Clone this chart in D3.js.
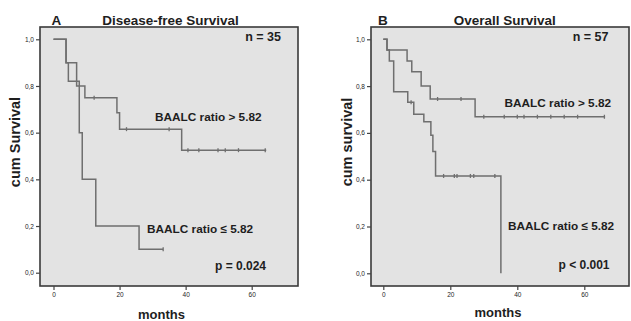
<!DOCTYPE html>
<html>
<head>
<meta charset="utf-8">
<script src="https://cdn.jsdelivr.net/npm/d3@7"></script>
<style>
  html, body { margin: 0; padding: 0; background: #ffffff; }
  svg { display: block; }
  text { font-family: "Liberation Sans", Arial, sans-serif; fill: #1e1e1e; }
</style>
</head>
<body>
<svg id="chart" width="631" height="321"></svg>
<script>
// Kaplan-Meier step curves (time in months, cumulative survival)
const dfsHighTime = [0, 3.8, 7.0, 9.5, 19.2, 20.0, 38.8, 64.4];
const dfsHighSurv = [1.0, 0.90, 0.80, 0.75, 0.685, 0.615, 0.525, 0.525];
const dfsHighCensor = [12.3, 22.1, 35, 40.7, 44, 49.8, 52, 56, 64.1];

const dfsLowTime = [0, 3.8, 4.5, 7.8, 8.7, 12.8, 25.9, 33.2];
const dfsLowSurv = [1.0, 0.90, 0.82, 0.60, 0.40, 0.20, 0.10, 0.10];
const dfsLowCensor = [33.2];

const osHighTime = [0, 1.1, 7.1, 8.5, 11.3, 14.0, 27.4, 66.2];
const osHighSurv = [1.0, 0.954, 0.907, 0.861, 0.80, 0.745, 0.669, 0.669];
const osHighCensor = [16.2, 23.2, 30, 36.1, 40, 42, 46, 50, 54, 58, 66];

const osLowTime = [0, 1.1, 1.8, 3.1, 7.3, 9.1, 12.1, 14.2, 14.8, 15.6, 35.1];
const osLowSurv = [1.0, 0.954, 0.907, 0.776, 0.731, 0.680, 0.648, 0.59, 0.52, 0.416, 0.0];
const osLowCensor = [8.3, 18, 21.2, 22, 26, 27, 33.3];

const xTicks = [0, 20, 40, 60];
const yTicks = [0, 0.2, 0.4, 0.6, 0.8, 1.0];

const panels = [
  {
    letter: "A", title: "Disease-free Survival", n: "n = 35", p: "p = 0.024",
    yLabel: "cum Survival",
    high: { t: dfsHighTime, s: dfsHighSurv, c: dfsHighCensor },
    low:  { t: dfsLowTime,  s: dfsLowSurv,  c: dfsLowCensor },
    frame: { x0: 40, x1: 298, y0: 27, y1: 286 },
    xr: [53.5, 251.7], yr: [272.7, 39.3],
    labelHigh: [155, 121], labelLow: [147, 232.5], pPos: [215, 270],
    nPos: [281, 41], letterPos: [51.5, 25], titleX: 170.5,
    monthsPos: [161.5, 319], yLabelPos: [20, 142]
  },
  {
    letter: "B", title: "Overall Survival", n: "n = 57", p: "p < 0.001",
    yLabel: "cum survival",
    high: { t: osHighTime, s: osHighSurv, c: osHighCensor },
    low:  { t: osLowTime,  s: osLowSurv,  c: osLowCensor },
    frame: { x0: 371, x1: 629, y0: 27, y1: 286 },
    xr: [383.3, 584.3], yr: [273.3, 39.3],
    labelHigh: [504.5, 107], labelLow: [508, 229.5], pPos: [558.5, 269],
    nPos: [608.5, 41], letterPos: [378, 25], titleX: 504.7,
    monthsPos: [498, 316.5], yLabelPos: [352, 142]
  }
];

const svg = d3.select("#chart");
const curveColor = "#6f6f6f";

panels.forEach(pn => {
  const g = svg.append("g");
  const f = pn.frame;
  const x = d3.scaleLinear().domain([0, 60]).range(pn.xr);
  const y = d3.scaleLinear().domain([0, 1]).range(pn.yr);

  // plot area
  g.append("rect")
    .attr("x", f.x0).attr("y", f.y0)
    .attr("width", f.x1 - f.x0).attr("height", f.y1 - f.y0)
    .attr("fill", "#e3e3e3").attr("stroke", "#3a3a3a").attr("stroke-width", 1.6);

  // axes
  const fmt = v => d3.format(".1f")(v).replace(".", ",");
  const yAxis = g.append("g")
    .attr("transform", `translate(${f.x0},0)`)
    .call(d3.axisLeft(y).tickValues(yTicks).tickFormat(fmt).tickSize(4).tickPadding(2));
  const xAxis = g.append("g")
    .attr("transform", `translate(0,${f.y1})`)
    .call(d3.axisBottom(x).tickValues(xTicks).tickSize(4).tickPadding(2));
  [yAxis, xAxis].forEach(a => {
    a.select(".domain").remove();
    a.selectAll(".tick line").attr("stroke", "#444").attr("stroke-width", 1.2);
    a.selectAll(".tick text")
      .attr("font-family", "Liberation Sans, Arial, sans-serif")
      .attr("font-size", 6.5).attr("fill", "#555");
  });

  // step curves
  const step = d3.line()
    .x(d => x(d[0])).y(d => y(d[1]))
    .curve(d3.curveStepAfter);
  const survAt = (grp, tm) => {
    const i = d3.bisectRight(grp.t, tm) - 1;
    return grp.s[Math.max(0, i)];
  };
  [pn.low, pn.high].forEach(grp => {
    const pts = grp.t.map((tm, i) => [tm, grp.s[i]]);
    g.append("path")
      .attr("d", step(pts))
      .attr("fill", "none")
      .attr("stroke", curveColor)
      .attr("stroke-width", 1.5);
    g.selectAll(null)
      .data(grp.c)
      .enter().append("line")
      .attr("x1", d => x(d)).attr("x2", d => x(d))
      .attr("y1", d => y(survAt(grp, d)) - 2)
      .attr("y2", d => y(survAt(grp, d)) + 2)
      .attr("stroke", curveColor).attr("stroke-width", 1.3);
  });

  // labels
  const txt = (s, pos, size, anchor) => g.append("text")
    .attr("x", pos[0]).attr("y", pos[1])
    .attr("font-size", size).attr("font-weight", "bold")
    .attr("text-anchor", anchor || "start")
    .text(s);

  txt(pn.letter, pn.letterPos, 13.5);
  txt(pn.title, [pn.titleX, 25], 13.5, "middle");
  txt(pn.n, pn.nPos, 12.5, "end");
  txt("BAALC ratio > 5.82", pn.labelHigh, 11.8);
  txt("BAALC ratio \u2264 5.82", pn.labelLow, 11.8);
  txt(pn.p, pn.pPos, 12);
  txt("months", pn.monthsPos, 13, "middle");
  g.append("text")
    .attr("transform", `translate(${pn.yLabelPos[0]},${pn.yLabelPos[1]}) rotate(-90)`)
    .attr("text-anchor", "middle")
    .attr("font-size", 14.5).attr("font-weight", "bold")
    .text(pn.yLabel);
});
</script>
</body>
</html>
